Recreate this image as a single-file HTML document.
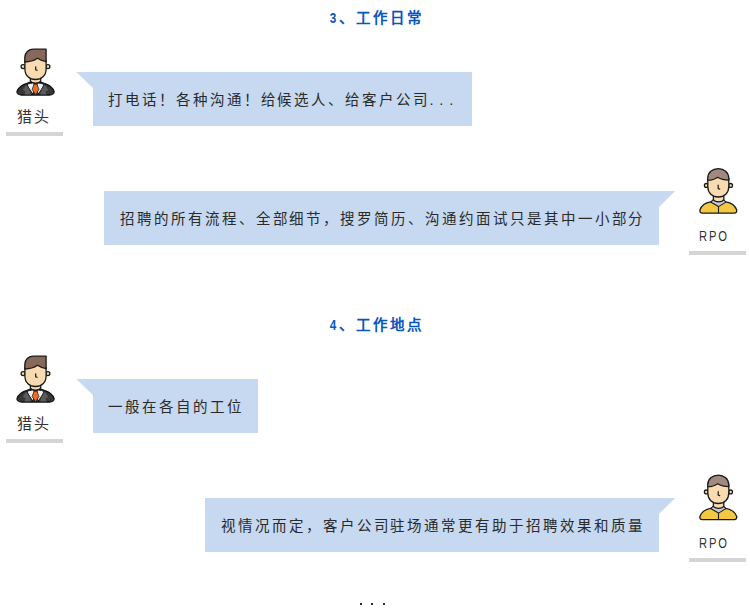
<!DOCTYPE html>
<html lang="zh-CN"><head><meta charset="utf-8">
<style>
*{margin:0;padding:0;box-sizing:border-box}
html,body{width:750px;height:611px;background:#fff;overflow:hidden}
body{position:relative;font-family:"Liberation Sans",sans-serif;color:#333}
.t{position:absolute;left:1.2px;width:750px;text-align:center;font-size:14.5px;font-weight:bold;color:#0756bf;letter-spacing:3px;line-height:20px;white-space:nowrap}
.n{display:inline-block;font-size:14px;transform:scaleX(0.84);margin-right:-0.2px;margin-left:1px}
.b{position:absolute;height:54px;background:#c6d9f0;font-size:14.5px;letter-spacing:2.95px;line-height:54px;white-space:nowrap;color:#2a2a2a}
.b .tx{position:absolute;top:0.8px}
.rpo{position:absolute;font-size:14px;letter-spacing:2.3px;line-height:20px;white-space:nowrap;color:#333;transform:scaleX(0.8);transform-origin:0 0}
.lb{position:absolute;font-size:15px;letter-spacing:2px;line-height:20px;white-space:nowrap;color:#333}
.bar{position:absolute;height:4px;background:#d5d5d5}
svg{position:absolute;overflow:visible}
.dot{position:absolute;width:2px;height:2px;background:#2a2a2a}
</style></head><body>

<div class="t" style="top:7.7px"><span class="n">3</span>、工作日常</div>

<!-- man avatar 1 -->
<svg style="left:0;top:0" width="750" height="611" viewBox="0 0 750 611">
<defs>
<g id="man">
  <circle cx="23.1" cy="66.6" r="2" fill="#f9dbb1" stroke="#1a1a1a" stroke-width="1.3"/>
  <circle cx="47.9" cy="66.6" r="2" fill="#f9dbb1" stroke="#1a1a1a" stroke-width="1.3"/>
  <path d="M21.5 95 C19 95 17 93.4 16.9 91.8 C18 87.8 22 84.8 27 83.3 L30.4 82 L40.7 82 L44.1 83.3 C49.1 84.8 53.1 87.8 54.2 91.8 C54.1 93.4 52.1 95 49.6 95 Z" fill="#373737" stroke="#111" stroke-width="1.3" stroke-linejoin="round"/>
  <path d="M25.8 85.5 L22.8 89.9 L25.6 91.6 L24.4 94.4 L31 94.4 L27.8 84.7 Z" fill="#5b5b5b"/>
  <path d="M45.3 85.5 L48.3 89.9 L45.5 91.6 L46.7 94.4 L40.1 94.4 L43.3 84.7 Z" fill="#5b5b5b"/>
  <path d="M30.4 76 L30.4 81.2 C32 83.7 39.1 83.7 40.7 81.2 L40.7 76 Z" fill="#f9dbb1" stroke="#1a1a1a" stroke-width="1.3"/>
  <path d="M27.1 84.6 C28.3 83.7 30.6 83.2 32.6 83.1 L34.3 84.5 L33.3 94.6 C30.8 91.3 28.5 87.9 27.1 84.6 Z" fill="#eef2f3" stroke="#1a1a1a" stroke-width="1" stroke-linejoin="round"/>
  <path d="M44 84.6 C42.8 83.7 40.5 83.2 38.5 83.1 L36.8 84.5 L37.8 94.6 C40.3 91.3 42.6 87.9 44 84.6 Z" fill="#eef2f3" stroke="#1a1a1a" stroke-width="1" stroke-linejoin="round"/>
  <path d="M34.1 84.2 L37 84.2 L39 89.5 L35.55 94.8 L32.1 89.5 Z" fill="#f26a1b" stroke="#1f2a30" stroke-width="0.8" stroke-linejoin="round"/>
  <path d="M26 55 L46.1 55 L46.1 69 C46.1 75.8 41.5 79.5 35.5 79.5 C29.5 79.5 24.9 75.8 24.9 69 L24.9 58 Z" fill="#f9dbb1"/><path d="M24.9 60 L24.9 69 C24.9 75.8 29.5 79.5 35.5 79.5 C41.5 79.5 46.1 75.8 46.1 69 L46.1 60" fill="none" stroke="#1a1a1a" stroke-width="1.3"/>
  <path d="M24.8 62 L24.8 57.5 C24.8 52.5 28.5 49.2 33.5 49.2 L46.1 49.2 L46.1 61.6 C42.5 61.2 40 60 37.5 58.3 C34 60.8 29 62 24.8 62 Z" fill="#86695a" stroke="#1a1a1a" stroke-width="1.3" stroke-linejoin="round"/>
  <path d="M35.7 66.8 L35.7 69.8 L37.1 70.3" fill="none" stroke="#1a1a1a" stroke-width="1.2" stroke-linecap="round"/>
</g>
<g id="boy">
  <circle cx="706.3" cy="185.4" r="1.9" fill="#f9dbb1" stroke="#1a1a1a" stroke-width="1.3"/>
  <circle cx="730.6" cy="185.4" r="1.9" fill="#f9dbb1" stroke="#1a1a1a" stroke-width="1.3"/>
  <path d="M702.3 213.2 C700.3 213.2 699.5 211.5 700 209.8 C701.5 205.5 705.5 202.8 710.6 201.9 L713.4 201.2 L723.8 201.2 L725.9 201.9 C731 202.8 735 205.5 736.6 209.8 C737.1 211.5 736.3 213.2 734.3 213.2 Z" fill="#f4c842" stroke="#1a1a1a" stroke-width="1.3" stroke-linejoin="round"/>
  <path d="M710.6 202.1 L718.5 206.6 L725.9 202.1 L723.5 199.5 L713.5 199.5 Z" fill="#c6ccd1" stroke="#1a1a1a" stroke-width="1.1" stroke-linejoin="round"/>
  <path d="M718.5 206.6 L718.5 213" stroke="#1a1a1a" stroke-width="1.1"/>
  <path d="M713.4 194 L713.4 199.8 C715 202.6 722.2 202.6 723.8 199.8 L723.8 194 Z" fill="#f9dbb1" stroke="#1a1a1a" stroke-width="1.3"/>
  <path d="M707.8 176.5 L728.8 176.5 L728.8 186.5 C728.8 193 724.3 197 718.3 197 C712.3 197 707.8 193 707.8 186.5 Z" fill="#f9dbb1"/><path d="M707.8 178 L707.8 186.5 C707.8 193 712.3 197 718.3 197 C724.3 197 728.8 193 728.8 186.5 L728.8 178" fill="none" stroke="#1a1a1a" stroke-width="1.3"/>
  <path d="M707.7 180.2 L707.7 178.5 C707.7 172.5 712.5 168.6 718.3 168.6 C724 168.6 728.8 172.5 728.8 178.5 L728.8 180.1 C724.5 180 720.5 179 717.7 177.2 C715 179.2 711.5 180.2 707.7 180.2 Z" fill="#a08a80" stroke="#1a1a1a" stroke-width="1.3" stroke-linejoin="round"/>
  <path d="M718.2 185.2 L718.2 188.6 L719.7 189.1" fill="none" stroke="#1a1a1a" stroke-width="1.2" stroke-linecap="round"/>
</g>
</defs>
<polygon points="76.3,72 93.5,72 93.5,88.6" fill="#c6d9f0"/>
<polygon points="76.3,379 93.5,379 93.5,395.6" fill="#c6d9f0"/>
<polygon points="658.5,191 675.3,191 658.5,207.4" fill="#c6d9f0"/>
<polygon points="658.5,498 675.3,498 658.5,514.4" fill="#c6d9f0"/>
<use href="#man"/>
<use href="#man" y="307"/>
<use href="#boy"/>
<use href="#boy" y="306.5"/>
</svg>

<div class="lb" style="left:17px;top:107px">猎头</div>
<div class="bar" style="left:6px;top:132px;width:57px"></div>

<div class="b" style="left:93px;top:72px;width:379px"><span class="tx" style="left:15px">打电话！各种沟通！给候选人、给客户公司<span style="letter-spacing:5.9px;margin-left:-0.7px">...</span></span></div>

<div class="b" style="left:104px;top:191px;width:555px"><span class="tx" style="left:16px">招聘的所有流程、全部细节，搜罗简历、沟通约面试只是其中一小部分</span></div>

<div class="rpo" style="left:699px;top:226px">RPO</div>
<div class="bar" style="left:689px;top:251px;width:57px"></div>

<div class="t" style="top:314.7px"><span class="n">4</span>、工作地点</div>

<div class="lb" style="left:17px;top:414px">猎头</div>
<div class="bar" style="left:6px;top:439px;width:57px"></div>

<div class="b" style="left:93px;top:379px;width:165px"><span class="tx" style="left:15px">一般在各自的工位</span></div>

<div class="b" style="left:205px;top:498px;width:454px"><span class="tx" style="left:16px">视情况而定，客户公司驻场通常更有助于招聘效果和质量</span></div>

<div class="rpo" style="left:699px;top:533px">RPO</div>
<div class="bar" style="left:689px;top:558px;width:57px"></div>

<div class="dot" style="left:360px;top:603px"></div>
<div class="dot" style="left:371px;top:603px"></div>
<div class="dot" style="left:383px;top:603px"></div>

</body></html>
